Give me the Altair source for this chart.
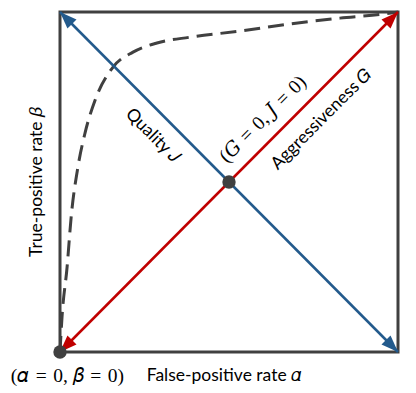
import math
import altair as alt
import pandas as pd

# ROC-like dashed curve (false-positive rate alpha, true-positive rate beta)
roc_fpr = [0.0, 0.006, 0.021, 0.033, 0.053, 0.074, 0.104, 0.157, 0.216, 0.287,
           0.385, 0.533, 0.680, 0.828, 0.956, 1.0]
roc_tpr = [0.0, 0.103, 0.25, 0.397, 0.544, 0.644, 0.741, 0.838, 0.882, 0.909,
           0.926, 0.944, 0.965, 0.982, 0.994, 1.0]

# Quality J axis (blue) and Aggressiveness G axis (red)
quality_x = [0.0, 1.0]
quality_y = [1.0, 0.0]
aggr_x = [0.0, 1.0]
aggr_y = [0.0, 1.0]

# marked points
point_x = [0.0, 0.5]
point_y = [0.0, 0.5]

# labels
SP = "\u2004"
diag_labels = ["Quality 𝐽", f"(𝐺{SP}={SP}0, 𝐽{SP}={SP}0)", "Aggressiveness 𝐺"]
diag_x = [0.275, 0.600, 0.775]
diag_y = [0.635, 0.685, 0.685]
bottom_labels = [f"(𝛼{SP}={SP}0, 𝛽{SP}={SP}0)", "False-positive rate 𝛼"]
bottom_x = [0.022, 0.485]
bottom_y = [-0.07, -0.07]
left_label = ["True-positive rate 𝛽"]
left_x = [-0.068]
left_y = [0.5]

W, H = 338, 340
BLUE = "#235a8c"
RED = "#c00000"
GRAY = "#404040"
SANS = "Lato, 'DejaVu Sans'"
MATH = "'Liberation Serif', 'DejaVu Serif'"
FS = 17.5
FM = 19.5

xs = alt.Scale(domain=[0, 1], nice=False, zero=False)
ys = alt.Scale(domain=[0, 1], nice=False, zero=False)


def X(f):
    return alt.X(f, type="quantitative", scale=xs, axis=None)


def Y(f):
    return alt.Y(f, type="quantitative", scale=ys, axis=None)


roc_df = pd.DataFrame({"x": roc_fpr, "y": roc_tpr})
blue_df = pd.DataFrame({"x": quality_x, "y": quality_y})
red_df = pd.DataFrame({"x": aggr_x, "y": aggr_y})


def arrow_rows(xv, yv):
    # arrowheads at both ends, pointing outward along the line (pixel space)
    rows = []
    for i, j in ((0, 1), (1, 0)):
        dx = (xv[i] - xv[j]) * W
        dy = -(yv[i] - yv[j]) * H
        ang = math.degrees(math.atan2(dx, -dy)) % 360
        rows.append({"x": xv[i], "y": yv[i], "a": ang})
    return pd.DataFrame(rows)


ARROW = "M0,0L-0.75,2L0.75,2Z"

roc = alt.Chart(roc_df).mark_line(
    color=GRAY, strokeWidth=3, strokeDash=[16, 8], interpolate="monotone"
).encode(x=X("x"), y=Y("y"))

blue = alt.Chart(blue_df).mark_line(color=BLUE, strokeWidth=2.5).encode(x=X("x"), y=Y("y"))
red = alt.Chart(red_df).mark_line(color=RED, strokeWidth=2.5).encode(x=X("x"), y=Y("y"))

blue_arr = alt.Chart(arrow_rows(quality_x, quality_y)).mark_point(
    shape=ARROW, filled=True, color=BLUE, size=289, opacity=1
).encode(x=X("x"), y=Y("y"), angle=alt.Angle("a:Q", scale=None))
red_arr = alt.Chart(arrow_rows(aggr_x, aggr_y)).mark_point(
    shape=ARROW, filled=True, color=RED, size=289, opacity=1
).encode(x=X("x"), y=Y("y"), angle=alt.Angle("a:Q", scale=None))

pts = alt.Chart(pd.DataFrame({"x": point_x, "y": point_y})).mark_circle(
    color=GRAY, size=180, opacity=1
).encode(x=X("x"), y=Y("y"))

dl = pd.DataFrame({"t": diag_labels, "x": diag_x, "y": diag_y})
t_quality = alt.Chart(dl.iloc[[0]]).mark_text(
    font=SANS, fontSize=FS, angle=45, color="black"
).encode(x=X("x"), y=Y("y"), text="t:N")
t_origin = alt.Chart(dl.iloc[[1]]).mark_text(
    font=MATH, fontSize=FM, angle=315, color="black"
).encode(x=X("x"), y=Y("y"), text="t:N")
t_aggr = alt.Chart(dl.iloc[[2]]).mark_text(
    font=SANS, fontSize=FS, angle=315, color="black"
).encode(x=X("x"), y=Y("y"), text="t:N")

bl = pd.DataFrame({"t": bottom_labels, "x": bottom_x, "y": bottom_y})
t_b0 = alt.Chart(bl.iloc[[0]]).mark_text(
    font=MATH, fontSize=FM, color="black"
).encode(x=X("x"), y=Y("y"), text="t:N")
t_b1 = alt.Chart(bl.iloc[[1]]).mark_text(
    font=SANS, fontSize=FS, color="black"
).encode(x=X("x"), y=Y("y"), text="t:N")

t_left = alt.Chart(pd.DataFrame({"t": left_label, "x": left_x, "y": left_y})).mark_text(
    font=SANS, fontSize=FS, angle=270, color="black"
).encode(x=X("x"), y=Y("y"), text="t:N")

chart = alt.layer(
    roc, blue, red, blue_arr, red_arr, pts,
    t_quality, t_origin, t_aggr, t_b0, t_b1, t_left
).properties(
    width=W, height=H,
    autosize=alt.AutoSizeParams(type="none"),
    padding={"left": 52, "top": 4, "right": 10, "bottom": 41},
).configure_view(stroke=GRAY, strokeWidth=3)

chart.save("out.html", embed_options={"renderer": "svg", "actions": False})
